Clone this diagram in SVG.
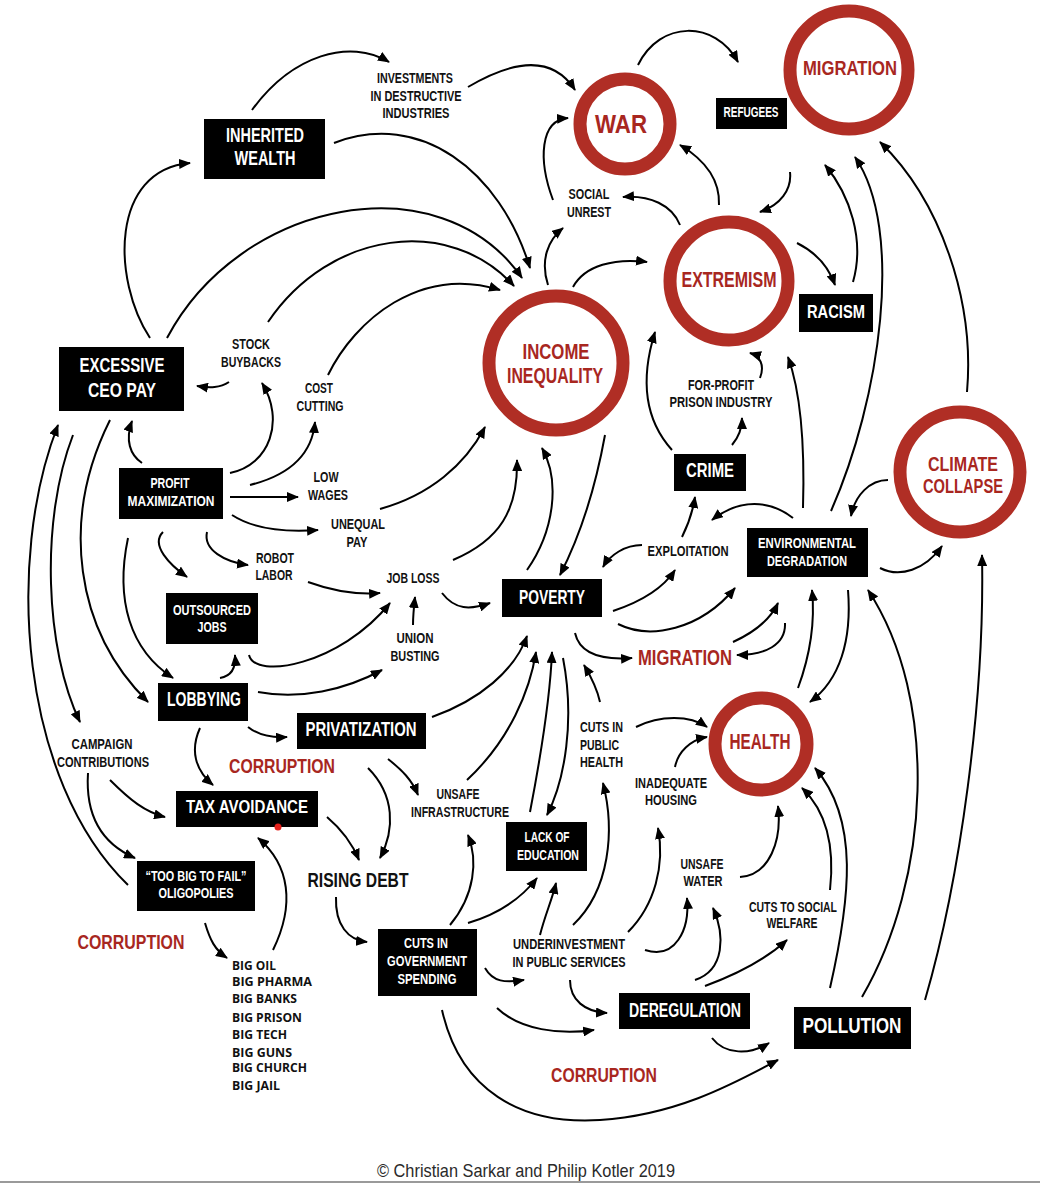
<svg xmlns="http://www.w3.org/2000/svg" width="1040" height="1184" viewBox="0 0 1040 1184">
<defs>
<marker id="a" viewBox="0 0 12 10" refX="11" refY="5" markerWidth="12" markerHeight="10" markerUnits="userSpaceOnUse" orient="auto"><path d="M0,0 L12,5 L0,10 z" fill="#000"/></marker>
<style>
text{font-family:"Liberation Sans",Arial,sans-serif;font-weight:bold;text-anchor:middle}
.box{fill:#000}
.bt{fill:#fff}
.lb{fill:#111;font-size:14px}
.ring{fill:none;stroke:#b02e25;stroke-width:13}
.rt{fill:#a8271f}
.big{fill:#111;font-family:"Open Sans","Liberation Sans",sans-serif;font-size:12.5px;text-anchor:start}
.st{text-anchor:start}
.c path{fill:none;stroke:#000;stroke-width:2;marker-end:url(#a)}
</style>
</defs>
<rect width="1040" height="1184" fill="#fff"/>

<g id="connectors" class="c">
<path d="M252,110 C292,55 350,38 389,62"/>
<path d="M468,87 C500,68 548,48 575,90"/>
<path d="M334,143 C420,110 500,170 530,268"/>
<path d="M150,338 C112,280 110,170 190,163"/>
<path d="M167,338 C240,200 440,160 522,278"/>
<path d="M268,322 C330,230 450,215 514,286"/>
<path d="M328,375 C355,320 420,265 500,290"/>
<path d="M638,65 C660,20 715,20 738,62"/>
<path d="M553,200 C538,160 540,120 568,118"/>
<path d="M719,205 C720,180 705,160 680,145"/>
<path d="M680,225 C672,205 650,195 623,197"/>
<path d="M790,172 C792,190 780,205 760,212"/>
<path d="M548,285 C540,260 548,240 563,228"/>
<path d="M573,287 C585,265 615,258 647,262"/>
<path d="M797,243 C815,252 828,265 835,285"/>
<path d="M853,282 C865,240 850,195 825,165"/>
<path d="M831,511 C880,400 905,230 855,157"/>
<path d="M967,392 C975,300 940,200 880,142"/>
<path d="M925,1000 C960,880 985,700 982,555"/>
<path d="M830,890 C835,845 825,810 802,788"/>
<path d="M830,988 C850,900 860,820 815,768"/>
<path d="M862,997 C930,880 940,700 868,590"/>
<path d="M798,688 C812,650 815,620 812,590"/>
<path d="M848,590 C852,640 840,680 810,702"/>
<path d="M880,568 C900,578 925,570 942,546"/>
<path d="M888,480 C870,480 855,495 851,516"/>
<path d="M803,508 C805,440 800,390 788,357"/>
<path d="M793,518 C770,500 740,498 712,520"/>
<path d="M682,537 C688,525 693,510 695,497"/>
<path d="M642,545 C625,545 610,555 603,567"/>
<path d="M613,611 C640,602 662,590 675,570"/>
<path d="M618,624 C650,640 700,630 735,588"/>
<path d="M733,642 C755,632 770,620 778,603"/>
<path d="M785,623 C786,645 765,655 737,655"/>
<path d="M575,633 C580,655 605,660 632,658"/>
<path d="M600,702 C597,688 590,675 584,665"/>
<path d="M636,727 C660,715 690,715 707,727"/>
<path d="M675,767 C678,752 690,740 707,737"/>
<path d="M740,877 C770,875 782,840 778,806"/>
<path d="M645,950 C675,960 690,930 687,898"/>
<path d="M695,980 C725,970 725,935 713,908"/>
<path d="M705,986 C735,975 765,960 787,940"/>
<path d="M712,1038 C725,1055 750,1055 769,1043"/>
<path d="M442,1010 C460,1090 520,1125 600,1120 C680,1115 740,1080 778,1060"/>
<path d="M497,1008 C520,1030 560,1035 594,1030"/>
<path d="M570,980 C570,1000 585,1012 607,1013"/>
<path d="M485,968 C493,982 505,983 524,980"/>
<path d="M450,925 C475,895 478,860 468,835"/>
<path d="M468,923 C495,915 520,900 537,878"/>
<path d="M540,935 C545,915 552,900 556,883"/>
<path d="M573,925 C610,890 615,830 603,783"/>
<path d="M628,932 C655,905 665,865 658,828"/>
<path d="M432,717 C480,700 515,670 527,636"/>
<path d="M467,780 C510,740 530,690 536,652"/>
<path d="M530,812 C540,760 550,700 552,652"/>
<path d="M563,658 C575,720 565,780 547,815"/>
<path d="M442,593 C455,610 470,610 490,603"/>
<path d="M453,560 C500,540 518,510 517,460"/>
<path d="M527,570 C555,530 560,480 542,448"/>
<path d="M605,435 C595,490 578,540 560,575"/>
<path d="M380,509 C430,495 465,465 485,427"/>
<path d="M230,497 L298,497"/>
<path d="M232,515 C255,530 290,532 318,530"/>
<path d="M250,485 C290,475 312,455 315,422"/>
<path d="M230,473 C270,465 285,420 262,383"/>
<path d="M229,382 C220,388 210,388 197,386"/>
<path d="M142,463 C130,455 125,440 132,421"/>
<path d="M207,532 C203,550 225,562 248,565"/>
<path d="M163,532 C150,545 170,565 187,577"/>
<path d="M308,582 C330,590 355,595 380,593"/>
<path d="M249,655 C255,680 340,665 390,603"/>
<path d="M413,625 C413,615 414,606 415,597"/>
<path d="M258,692 C300,700 345,690 382,670"/>
<path d="M220,678 C232,676 236,668 235,655"/>
<path d="M248,727 C258,735 270,738 287,737"/>
<path d="M200,728 C190,750 195,770 213,785"/>
<path d="M388,759 C402,770 412,780 418,795"/>
<path d="M368,768 C395,795 395,830 380,858"/>
<path d="M327,817 C340,828 352,843 359,860"/>
<path d="M273,950 C295,905 290,865 258,838"/>
<path d="M205,923 C210,940 215,950 227,958"/>
<path d="M336,897 C335,925 348,940 367,942"/>
<path d="M110,780 C130,800 145,812 165,817"/>
<path d="M88,773 C85,820 105,845 135,858"/>
<path d="M128,885 C20,780 5,560 58,425"/>
<path d="M73,435 C40,520 45,650 80,722"/>
<path d="M110,420 C60,520 75,630 148,702"/>
<path d="M128,538 C115,600 130,650 173,678"/>
<path d="M672,450 C645,420 640,380 655,332"/>
<path d="M732,445 C738,438 742,430 742,418"/>
<path d="M760,378 C765,365 760,356 750,353"/>
</g>

<g id="war"><circle class="ring" cx="625" cy="124" r="45" stroke-width="12"/><text class="rt" x="621" y="133" font-size="25" textLength="52" lengthAdjust="spacingAndGlyphs">WAR</text></g>
<g id="migration-circle"><circle class="ring" cx="849" cy="70" r="59"/><text class="rt" x="850" y="75" font-size="21" textLength="94" lengthAdjust="spacingAndGlyphs">MIGRATION</text></g>
<g id="extremism"><circle class="ring" cx="729" cy="281" r="59"/><text class="rt" x="729" y="287" font-size="22" textLength="95" lengthAdjust="spacingAndGlyphs">EXTREMISM</text></g>
<g id="income-inequality"><circle class="ring" cx="556" cy="363" r="67" stroke-width="14"/><text class="rt" x="556" y="359" font-size="22" textLength="67" lengthAdjust="spacingAndGlyphs">INCOME</text><text class="rt" x="555" y="383" font-size="22" textLength="96" lengthAdjust="spacingAndGlyphs">INEQUALITY</text></g>
<g id="climate-collapse"><circle class="ring" cx="960" cy="472" r="60"/><text class="rt" x="963" y="471" font-size="21" textLength="70" lengthAdjust="spacingAndGlyphs">CLIMATE</text><text class="rt" x="963" y="493" font-size="21" textLength="80" lengthAdjust="spacingAndGlyphs">COLLAPSE</text></g>
<g id="health"><circle class="ring" cx="761" cy="744" r="46" stroke-width="12"/><text class="rt" x="760" y="749" font-size="22" textLength="61" lengthAdjust="spacingAndGlyphs">HEALTH</text></g>

<g id="inherited-wealth"><rect class="box" x="204" y="119" width="121" height="60"/><text class="bt" x="265" y="142" font-size="19.5" textLength="78" lengthAdjust="spacingAndGlyphs">INHERITED</text><text class="bt" x="265" y="165" font-size="19.5" textLength="61" lengthAdjust="spacingAndGlyphs">WEALTH</text></g>
<g id="excessive-ceo-pay"><rect class="box" x="59" y="347" width="125" height="64"/><text class="bt" x="122" y="372" font-size="21" textLength="85" lengthAdjust="spacingAndGlyphs">EXCESSIVE</text><text class="bt" x="122" y="397" font-size="21" textLength="68" lengthAdjust="spacingAndGlyphs">CEO PAY</text></g>
<g id="profit-maximization"><rect class="box" x="119" y="468" width="104" height="51"/><text class="bt" x="170" y="488" font-size="14" textLength="39" lengthAdjust="spacingAndGlyphs">PROFIT</text><text class="bt" x="171" y="506" font-size="14" textLength="87" lengthAdjust="spacingAndGlyphs">MAXIMIZATION</text></g>
<g id="outsourced-jobs"><rect class="box" x="166" y="593" width="92" height="51"/><text class="bt" x="212" y="615" font-size="14" textLength="78" lengthAdjust="spacingAndGlyphs">OUTSOURCED</text><text class="bt" x="212" y="632" font-size="14" textLength="29" lengthAdjust="spacingAndGlyphs">JOBS</text></g>
<g id="lobbying"><rect class="box" x="158" y="683" width="90" height="38"/><text class="bt" x="204" y="706" font-size="19.5" textLength="74" lengthAdjust="spacingAndGlyphs">LOBBYING</text></g>
<g id="privatization"><rect class="box" x="297" y="713" width="129" height="36"/><text class="bt" x="361" y="736" font-size="19.5" textLength="111" lengthAdjust="spacingAndGlyphs">PRIVATIZATION</text></g>
<g id="tax-avoidance"><rect class="box" x="176" y="791" width="142" height="36"/><text class="bt" x="247" y="813" font-size="19" textLength="122" lengthAdjust="spacingAndGlyphs">TAX AVOIDANCE</text></g>
<g id="oligopolies"><rect class="box" x="137" y="861" width="118" height="50"/><text class="bt" x="196" y="881" font-size="15" textLength="101" lengthAdjust="spacingAndGlyphs">“TOO BIG TO FAIL”</text><text class="bt" x="196" y="898" font-size="14.5" textLength="75" lengthAdjust="spacingAndGlyphs">OLIGOPOLIES</text></g>
<g id="cuts-gov-spending"><rect class="box" x="378" y="929" width="99" height="67"/><text class="bt" x="426" y="948" font-size="14" textLength="44" lengthAdjust="spacingAndGlyphs">CUTS IN</text><text class="bt" x="427" y="966" font-size="14" textLength="80" lengthAdjust="spacingAndGlyphs">GOVERNMENT</text><text class="bt" x="427" y="984" font-size="14" textLength="59" lengthAdjust="spacingAndGlyphs">SPENDING</text></g>
<g id="lack-of-education"><rect class="box" x="506" y="822" width="81" height="49"/><text class="bt" x="547" y="842" font-size="14" textLength="45" lengthAdjust="spacingAndGlyphs">LACK OF</text><text class="bt" x="548" y="860" font-size="14" textLength="62" lengthAdjust="spacingAndGlyphs">EDUCATION</text></g>
<g id="poverty"><rect class="box" x="502" y="579" width="100" height="38"/><text class="bt" x="552" y="604" font-size="20" textLength="66" lengthAdjust="spacingAndGlyphs">POVERTY</text></g>
<g id="deregulation"><rect class="box" x="619" y="993" width="131" height="36"/><text class="bt" x="685" y="1017" font-size="19.5" textLength="112" lengthAdjust="spacingAndGlyphs">DEREGULATION</text></g>
<g id="pollution"><rect class="box" x="794" y="1007" width="117" height="42"/><text class="bt" x="852" y="1033" font-size="22" textLength="99" lengthAdjust="spacingAndGlyphs">POLLUTION</text></g>
<g id="environmental-degradation"><rect class="box" x="747" y="528" width="121" height="49"/><text class="bt" x="807" y="548" font-size="14" textLength="98" lengthAdjust="spacingAndGlyphs">ENVIRONMENTAL</text><text class="bt" x="807" y="566" font-size="14" textLength="80" lengthAdjust="spacingAndGlyphs">DEGRADATION</text></g>
<g id="crime"><rect class="box" x="674" y="454" width="72" height="37"/><text class="bt" x="710" y="477" font-size="19.5" textLength="48" lengthAdjust="spacingAndGlyphs">CRIME</text></g>
<g id="racism"><rect class="box" x="799" y="294" width="74" height="38"/><text class="bt" x="836" y="318" font-size="18.5" textLength="58" lengthAdjust="spacingAndGlyphs">RACISM</text></g>
<g id="refugees"><rect class="box" x="716" y="98" width="71" height="31"/><text class="bt" x="751" y="117" font-size="14.5" textLength="55" lengthAdjust="spacingAndGlyphs">REFUGEES</text></g>

<g id="investments"><text class="lb" x="415" y="83" textLength="76" lengthAdjust="spacingAndGlyphs">INVESTMENTS</text><text class="lb" x="416" y="101" textLength="91" lengthAdjust="spacingAndGlyphs">IN DESTRUCTIVE</text><text class="lb" x="416" y="118" textLength="67" lengthAdjust="spacingAndGlyphs">INDUSTRIES</text></g>
<g id="social-unrest"><text class="lb" x="589" y="199" textLength="41" lengthAdjust="spacingAndGlyphs">SOCIAL</text><text class="lb" x="589" y="217" textLength="44" lengthAdjust="spacingAndGlyphs">UNREST</text></g>
<g id="stock-buybacks"><text class="lb" x="251" y="349" textLength="38" lengthAdjust="spacingAndGlyphs">STOCK</text><text class="lb" x="251" y="367" textLength="60" lengthAdjust="spacingAndGlyphs">BUYBACKS</text></g>
<g id="cost-cutting"><text class="lb" x="319" y="393" textLength="28" lengthAdjust="spacingAndGlyphs">COST</text><text class="lb" x="320" y="411" textLength="47" lengthAdjust="spacingAndGlyphs">CUTTING</text></g>
<g id="low-wages"><text class="lb" x="326" y="482" textLength="25" lengthAdjust="spacingAndGlyphs">LOW</text><text class="lb" x="328" y="500" textLength="40" lengthAdjust="spacingAndGlyphs">WAGES</text></g>
<g id="unequal-pay"><text class="lb" x="358" y="529" textLength="54" lengthAdjust="spacingAndGlyphs">UNEQUAL</text><text class="lb" x="357" y="547" textLength="21" lengthAdjust="spacingAndGlyphs">PAY</text></g>
<g id="robot-labor"><text class="lb" x="275" y="563" textLength="38" lengthAdjust="spacingAndGlyphs">ROBOT</text><text class="lb" x="274" y="580" textLength="37" lengthAdjust="spacingAndGlyphs">LABOR</text></g>
<g id="job-loss"><text class="lb" x="413" y="583" textLength="53" lengthAdjust="spacingAndGlyphs">JOB LOSS</text></g>
<g id="union-busting"><text class="lb" x="415" y="643" textLength="37" lengthAdjust="spacingAndGlyphs">UNION</text><text class="lb" x="415" y="661" textLength="49" lengthAdjust="spacingAndGlyphs">BUSTING</text></g>
<g id="campaign-contributions"><text class="lb" x="102" y="749" textLength="61" lengthAdjust="spacingAndGlyphs">CAMPAIGN</text><text class="lb" x="103" y="767" textLength="92" lengthAdjust="spacingAndGlyphs">CONTRIBUTIONS</text></g>
<g id="unsafe-infrastructure"><text class="lb" x="458" y="799" textLength="43" lengthAdjust="spacingAndGlyphs">UNSAFE</text><text class="lb" x="460" y="817" textLength="98" lengthAdjust="spacingAndGlyphs">INFRASTRUCTURE</text></g>
<g id="cuts-public-health"><text class="lb st" x="580" y="732" textLength="43" lengthAdjust="spacingAndGlyphs">CUTS IN</text><text class="lb st" x="580" y="750" textLength="39" lengthAdjust="spacingAndGlyphs">PUBLIC</text><text class="lb st" x="580" y="767" textLength="43" lengthAdjust="spacingAndGlyphs">HEALTH</text></g>
<g id="inadequate-housing"><text class="lb" x="671" y="788" textLength="72" lengthAdjust="spacingAndGlyphs">INADEQUATE</text><text class="lb" x="671" y="805" textLength="52" lengthAdjust="spacingAndGlyphs">HOUSING</text></g>
<g id="for-profit-prison"><text class="lb" x="721" y="390" textLength="66" lengthAdjust="spacingAndGlyphs">FOR-PROFIT</text><text class="lb" x="721" y="407" textLength="103" lengthAdjust="spacingAndGlyphs">PRISON INDUSTRY</text></g>
<g id="exploitation"><text class="lb" x="688" y="556" textLength="81" lengthAdjust="spacingAndGlyphs">EXPLOITATION</text></g>
<g id="unsafe-water"><text class="lb" x="702" y="869" textLength="43" lengthAdjust="spacingAndGlyphs">UNSAFE</text><text class="lb" x="703" y="886" textLength="39" lengthAdjust="spacingAndGlyphs">WATER</text></g>
<g id="cuts-social-welfare"><text class="lb" x="793" y="912" textLength="88" lengthAdjust="spacingAndGlyphs">CUTS TO SOCIAL</text><text class="lb" x="792" y="928" textLength="51" lengthAdjust="spacingAndGlyphs">WELFARE</text></g>
<g id="underinvestment"><text class="lb" x="569" y="949" textLength="112" lengthAdjust="spacingAndGlyphs">UNDERINVESTMENT</text><text class="lb" x="569" y="967" textLength="113" lengthAdjust="spacingAndGlyphs">IN PUBLIC SERVICES</text></g>
<g id="rising-debt"><text x="358" y="887" fill="#111" font-size="21" textLength="101" lengthAdjust="spacingAndGlyphs">RISING DEBT</text></g>
<g id="migration-label"><text class="rt" x="685" y="665" font-size="22" textLength="94" lengthAdjust="spacingAndGlyphs">MIGRATION</text></g>
<g id="corruption-1"><text class="rt" x="282" y="773" font-size="19.5" textLength="106" lengthAdjust="spacingAndGlyphs">CORRUPTION</text></g>
<g id="corruption-2"><text class="rt" x="131" y="949" font-size="19.5" textLength="107" lengthAdjust="spacingAndGlyphs">CORRUPTION</text></g>
<g id="corruption-3"><text class="rt" x="604" y="1082" font-size="19.5" textLength="106" lengthAdjust="spacingAndGlyphs">CORRUPTION</text></g>
<g id="big-list">
<text class="big" x="232" y="970" textLength="44" lengthAdjust="spacingAndGlyphs">BIG OIL</text>
<text class="big" x="232" y="986" textLength="80" lengthAdjust="spacingAndGlyphs">BIG PHARMA</text>
<text class="big" x="232" y="1003" textLength="65" lengthAdjust="spacingAndGlyphs">BIG BANKS</text>
<text class="big" x="232" y="1022" textLength="70" lengthAdjust="spacingAndGlyphs">BIG PRISON</text>
<text class="big" x="232" y="1039" textLength="55" lengthAdjust="spacingAndGlyphs">BIG TECH</text>
<text class="big" x="232" y="1057" textLength="60" lengthAdjust="spacingAndGlyphs">BIG GUNS</text>
<text class="big" x="232" y="1072" textLength="75" lengthAdjust="spacingAndGlyphs">BIG CHURCH</text>
<text class="big" x="232" y="1090" textLength="48" lengthAdjust="spacingAndGlyphs">BIG JAIL</text>
</g>
<circle cx="278" cy="827" r="3.5" fill="#e3201b"/>
<text x="526" y="1177" font-size="19" fill="#2a2a2a" style="font-weight:normal" textLength="298" lengthAdjust="spacingAndGlyphs">© Christian Sarkar and Philip Kotler 2019</text>
<line x1="0" y1="1182" x2="1040" y2="1182" stroke="#9a9a9a" stroke-width="2"/>
</svg>
